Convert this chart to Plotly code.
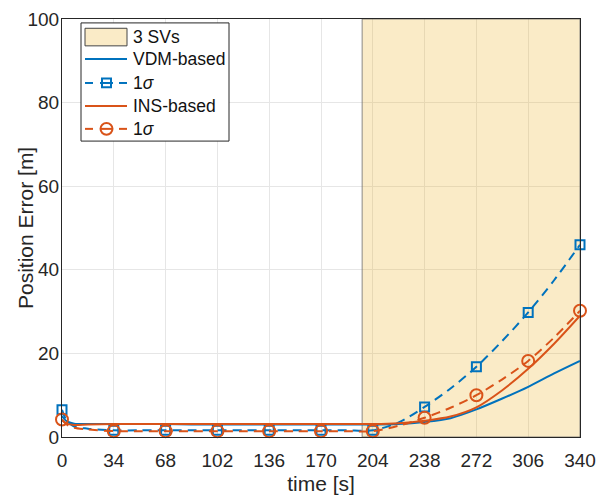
import plotly.graph_objects as go

# time samples for the curves [s]
time_s = [0, 3, 8, 17, 34, 51, 68, 85, 102, 119, 136, 153, 170, 187, 204,
          221, 238, 255, 272, 289, 306, 323, 340]
vdm = [5.0, 3.8, 3.2, 3.1, 3.1, 3.1, 3.1, 3.0, 3.0, 3.0, 3.0, 3.0, 3.0, 3.0, 3.0,
       3.1, 3.6, 4.5, 6.6, 9.2, 12.0, 15.2, 18.2]
vdm_sigma = [6.5, 4.0, 2.5, 2.0, 1.6, 1.6, 1.6, 1.6, 1.6, 1.6, 1.6, 1.6, 1.6, 1.6, 1.6,
             3.5, 7.2, 11.6, 16.8, 23.0, 29.8, 37.5, 46.0]
ins = [4.0, 3.2, 2.9, 3.0, 3.1, 3.1, 3.1, 3.1, 3.1, 3.1, 3.1, 3.1, 3.1, 3.1, 3.1,
       3.3, 3.9, 4.9, 7.1, 11.2, 16.3, 22.3, 29.0]
ins_sigma = [4.2, 3.0, 2.2, 1.8, 1.4, 1.4, 1.4, 1.4, 1.4, 1.4, 1.4, 1.4, 1.4, 1.4, 1.4,
             2.7, 4.6, 7.0, 10.0, 13.8, 18.2, 23.8, 30.2]

marker_times = [0, 34, 68, 102, 136, 170, 204, 238, 272, 306, 340]
x_ticks = [0, 34, 68, 102, 136, 170, 204, 238, 272, 306, 340]
y_ticks = [0, 20, 40, 60, 80, 100]
region_start, region_end = 197, 340
legend_labels = ["3 SVs", "VDM-based", "1<i>σ</i>", "INS-based", "1<i>σ</i>"]

BLUE = "#0072BD"
ORANGE = "#D95319"
TXT = "#262626"
FONT = "Liberation Sans, Arial, sans-serif"
DASH = "9px,6px"

# plot-area geometry (pixels) used to place the hand-built legend
W, H = 606, 502
L, R, T, B = 62, 26, 9, 65
PW, PH = W - L - R, H - T - B


def px(x):
    return (x - L) / PW


def py(y):
    return (H - B - y) / PH


def at_markers(vals):
    return [vals[time_s.index(t)] for t in marker_times]


fig = go.Figure()

# 3 SVs region
fig.add_trace(go.Scatter(
    x=[region_start, region_end, region_end, region_start, region_start],
    y=[0, 0, 100, 100, 0], fill="toself", mode="lines",
    fillcolor="rgba(237,177,32,0.25)", line=dict(color="rgba(110,110,110,0.8)", width=1),
    showlegend=False, hoverinfo="skip"))

spl = dict(shape="spline", smoothing=0.8)
fig.add_trace(go.Scatter(x=time_s, y=vdm, mode="lines", showlegend=False,
                         line=dict(color=BLUE, width=2, **spl)))
fig.add_trace(go.Scatter(x=time_s, y=vdm_sigma, mode="lines", showlegend=False,
                         line=dict(color=BLUE, width=2, dash=DASH, **spl)))
fig.add_trace(go.Scatter(x=marker_times, y=at_markers(vdm_sigma), mode="markers", showlegend=False,
                         cliponaxis=False,
                         marker=dict(symbol="square-open", size=9, color=BLUE, line=dict(width=2))))
fig.add_trace(go.Scatter(x=time_s, y=ins, mode="lines", showlegend=False,
                         line=dict(color=ORANGE, width=2, **spl)))
fig.add_trace(go.Scatter(x=time_s, y=ins_sigma, mode="lines", showlegend=False,
                         line=dict(color=ORANGE, width=2, dash=DASH, **spl)))
fig.add_trace(go.Scatter(x=marker_times, y=at_markers(ins_sigma), mode="markers", showlegend=False,
                         cliponaxis=False,
                         marker=dict(symbol="circle-open", size=12, color=ORANGE, line=dict(width=2))))

# ---- hand-built legend (MATLAB style) ----
rows = [27.5, 50, 74.5, 98, 121.5]
shapes = []
shapes.append(dict(type="rect", xref="paper", yref="paper", layer="above",
                   x0=px(81), x1=px(229), y0=py(134), y1=py(13),
                   fillcolor="white", line=dict(color=TXT, width=1)))
# patch
shapes.append(dict(type="rect", xref="paper", yref="paper", layer="above",
                   x0=px(85), x1=px(127), y0=py(36.5), y1=py(18.5),
                   fillcolor="rgb(250,235,199)", line=dict(color="#444444", width=1)))
# solid lines
for r, c in [(rows[1], BLUE), (rows[3], ORANGE)]:
    shapes.append(dict(type="line", xref="paper", yref="paper", layer="above",
                       x0=px(85), x1=px(127), y0=py(r), y1=py(r), line=dict(color=c, width=2)))
# dashed with markers
for r, c, sym in [(rows[2], BLUE, "rect"), (rows[4], ORANGE, "circle")]:
    for a, b in [(85, 93), (100, 113), (119, 127)]:
        shapes.append(dict(type="line", xref="paper", yref="paper", layer="above",
                           x0=px(a), x1=px(b), y0=py(r), y1=py(r), line=dict(color=c, width=2)))
    hs = 4.5 if sym == "rect" else 6
    shapes.append(dict(type=sym, xref="paper", yref="paper", layer="above",
                       x0=px(106.5 - hs), x1=px(106.5 + hs), y0=py(r + hs), y1=py(r - hs),
                       fillcolor="rgba(0,0,0,0)", line=dict(color=c, width=2)))

annotations = []
for r, lab in zip(rows, legend_labels):
    annotations.append(dict(xref="paper", yref="paper", x=px(131), y=py(r),
                            xanchor="left", yanchor="middle", showarrow=False, text=lab,
                            font=dict(size=17.5, color="#111111", family=FONT)))
# y-axis title
annotations.append(dict(xref="paper", yref="paper", x=px(25), y=0.5, textangle=-90,
                        xanchor="center", yanchor="middle", showarrow=False,
                        text="Position Error [m]",
                        font=dict(size=21, color=TXT, family=FONT)))

axis_common = dict(showline=True, linecolor=TXT, linewidth=1, mirror=True,
                   showgrid=True, gridcolor="#E6E6E6", gridwidth=1, zeroline=False,
                   ticks="", tickfont=dict(size=19, color=TXT, family=FONT),
                   ticklabeloverflow="allow")

fig.update_xaxes(range=[0, 340], tickvals=x_ticks, ticktext=[str(v) for v in x_ticks],
                 ticklabelstandoff=6,
                 title=dict(text="time [s]", font=dict(size=21, color=TXT, family=FONT), standoff=6),
                 **axis_common)
fig.update_yaxes(range=[0, 100], tickvals=y_ticks, ticktext=[str(v) for v in y_ticks],
                 ticklabelstandoff=-2, **axis_common)

fig.update_layout(
    width=W, height=H,
    margin=dict(l=L, r=R, t=T, b=B),
    plot_bgcolor="white", paper_bgcolor="white",
    font=dict(family=FONT, size=19, color=TXT),
    showlegend=False,
    shapes=shapes, annotations=annotations,
)

fig.write_html("out.html")
